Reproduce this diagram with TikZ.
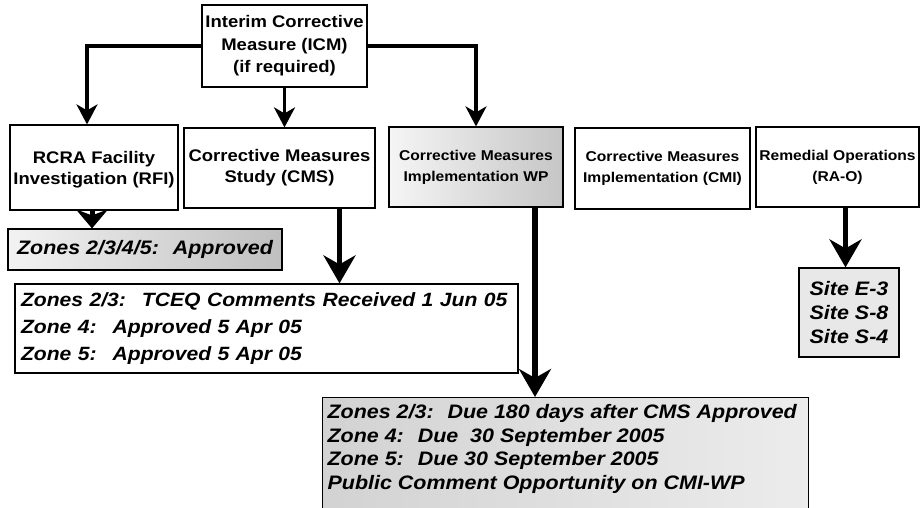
\documentclass[tikz,border=0pt]{standalone}
\usepackage{fontspec}
\setmainfont{Liberation Sans}[FakeStretch=1.1]
\usepackage{tikz}
\usetikzlibrary{arrows.meta, calc}

\tikzset{
  stage/.style={draw, line width=1.2pt, inner sep=0pt, align=center,
    font=\bfseries\fontsize{16.8}{21}\selectfont},
  smallstage/.style={stage, font=\bfseries\fontsize{14.2}{21}\selectfont},
  status/.style={draw, line width=1.2pt, inner sep=0pt,
    font=\bfseries\itshape\fontsize{19.5}{24}\selectfont},
  link/.style={line width=3.2pt, -{Stealth[length=20pt, width=21pt, inset=6pt]}},
  biglink/.style={line width=5pt, -{Stealth[length=28pt, width=32pt, inset=9pt]}},
}

\begin{document}
\begin{tikzpicture}[x=1pt, y=-1pt]
    \useasboundingbox (0, 0) rectangle (921, 507);
    % top row
    \node[stage, minimum width=165pt, minimum height=82pt, font=\bfseries\fontsize{16.8}{22.5}\selectfont] (icm) at (284.5, 46) {Interim Corrective\\Measure (ICM)\\(if required)};
    \node[stage, minimum width=168pt, minimum height=85pt, text depth=-4pt] (rfi) at (94, 167.5) {RCRA Facility\\Investigation (RFI)};
    \node[stage, minimum width=191pt, minimum height=80pt] (cms) at (279.5, 168) {Corrective Measures\\Study (CMS)};
    \node[smallstage, minimum width=174pt, minimum height=80pt, left color=gray!8, right color=gray!45] (cmiwp) at (476, 167) {Corrective Measures\\Implementation WP};
    \node[smallstage, minimum width=175pt, minimum height=81pt] (cmi) at (662.5, 168.5) {Corrective Measures\\Implementation (CMI)};
    \node[smallstage, minimum width=163pt, minimum height=80pt] (rao) at (837.5, 167) {Remedial Operations\\(RA-O)};

    % status boxes
    \node[status, minimum width=274pt, minimum height=41pt, left color=gray!10, right color=gray!50] (zall) at (145, 249.5) {Zones 2/3/4/5:~ Approved};
    \node[status, inner xsep=6pt, text width=491pt, minimum height=89pt, align=left,
      font=\bfseries\itshape\fontsize{19.2}{27}\selectfont] (zcms) at (266.5, 328.5)
      {Zones 2/3:~ TCEQ Comments Received 1 Jun 05\\Zone 4:~ Approved 5 Apr 05\\Zone 5:~ Approved 5 Apr 05};
    \node[status, anchor=north west, inner xsep=5pt, inner ysep=7pt, left color=gray!35, right color=gray!15] (zwp) at (322, 397)
      {\parbox[t][115pt][t]{476pt}{\baselineskip=23.5pt
        Zones 2/3:~ Due 180 days after CMS Approved\\
        Zone 4:~ Due~ 30 September 2005\\
        Zone 5:~ Due 30 September 2005\\
        Public Comment Opportunity on CMI-WP}};
    \node[status, minimum width=100pt, minimum height=89pt, align=center, fill=gray!18] (site) at (849, 312.5) {Site E-3\\Site S-8\\Site S-4};

    % connectors
    \draw[link] (icm.west) -| ([xshift=-7pt]rfi.north);
    \draw[link] (icm.east) -| (cmiwp.north);
    \draw[link] (icm.south) -- (icm.south |- cms.north);
    \draw[line width=5pt, -{Stealth[length=19pt, width=32pt, inset=6pt]}] ([xshift=-2pt]rfi.south) -- ([xshift=-2pt]rfi.south |- zall.north);
    \draw[biglink] ([xshift=60pt]cms.south) -- ([xshift=60pt]cms.south |- zcms.north);
    \draw[biglink, line width=5.5pt] ([xshift=59pt]cmiwp.south) -- ([xshift=59pt]cmiwp.south |- zwp.north);
    \draw[biglink] ([xshift=8pt]rao.south) -- ([xshift=8pt]rao.south |- site.north);
\end{tikzpicture}
\end{document}
